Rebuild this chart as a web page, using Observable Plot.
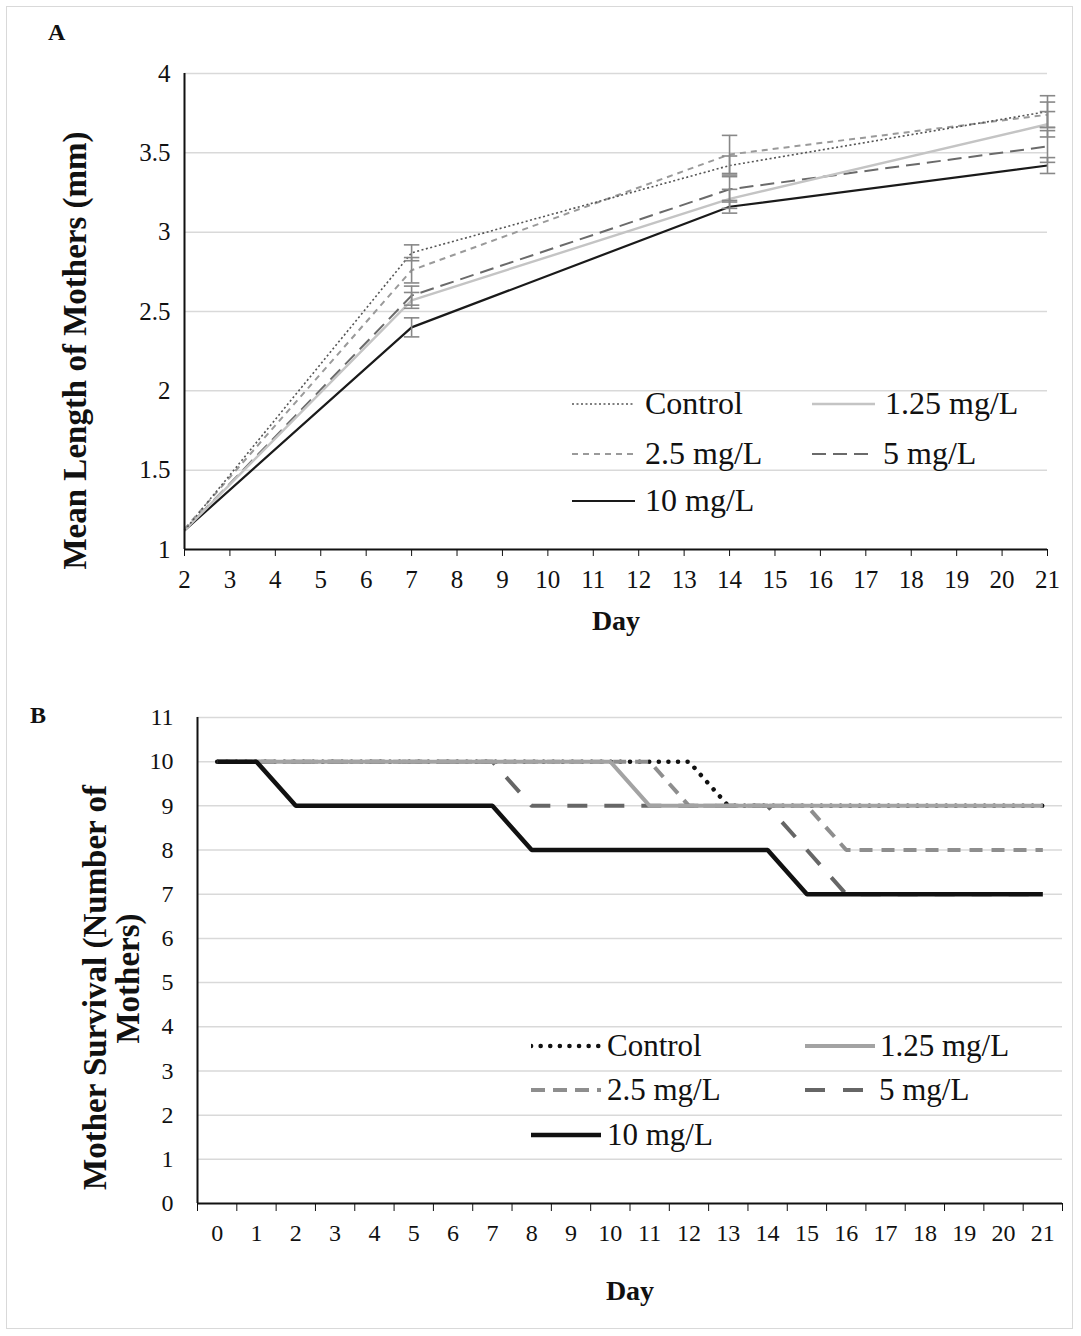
<!DOCTYPE html>
<html>
<head>
<meta charset="utf-8">
<script src="https://cdn.jsdelivr.net/npm/d3@7"></script>
<script src="https://cdn.jsdelivr.net/npm/@observablehq/plot@0.6"></script>
<style>
  html, body { margin: 0; padding: 0; background: #fff; }
  #fig { position: relative; width: 1081px; height: 1336px; font-family: "Liberation Serif", "Times New Roman", serif; color: #111; overflow: hidden; }
  #frame { position: absolute; left: 6px; top: 6px; width: 1067px; height: 1323px; border: 1.5px solid #d9d9d9; box-sizing: border-box; }
  .panel { position: absolute; left: 0; }
  .tag { position: absolute; font-weight: bold; font-size: 24px; }
  .lrow { position: absolute; display: flex; align-items: center; white-space: nowrap; }
  .lrow svg { display: block; }
</style>
</head>
<body>
<div id="fig">
  <div id="frame"></div>
</div>
<script>
// ---------- Panel A data: mean length of mothers (mm) ----------
const lengthDays = [2, 7, 14, 21];
const seriesNames = ["Control", "1.25 mg/L", "2.5 mg/L", "5 mg/L", "10 mg/L"];
const lenControl = [1.12, 2.87, 3.42, 3.76];
const len125     = [1.12, 2.57, 3.21, 3.68];
const len25      = [1.13, 2.76, 3.49, 3.74];
const len5       = [1.12, 2.60, 3.27, 3.54];
const len10      = [1.12, 2.40, 3.16, 3.42];
const errControl = [0.02, 0.05, 0.06, 0.10];
const err125     = [0.02, 0.05, 0.06, 0.08];
const err25      = [0.02, 0.08, 0.12, 0.08];
const err5       = [0.02, 0.06, 0.08, 0.10];
const err10      = [0.02, 0.06, 0.04, 0.05];
const lengthTicksX = [2,3,4,5,6,7,8,9,10,11,12,13,14,15,16,17,18,19,20,21];
const lengthTicksY = [1, 1.5, 2, 2.5, 3, 3.5, 4];

// ---------- Panel B data: mother survival (number of mothers) ----------
const survDays   = [0,1,2,3,4,5,6,7,8,9,10,11,12,13,14,15,16,17,18,19,20,21];
const survControl= [10,10,10,10,10,10,10,10,10,10,10,10,10,9,9,9,9,9,9,9,9,9];
const surv125    = [10,10,10,10,10,10,10,10,10,10,10,9,9,9,9,9,9,9,9,9,9,9];
const surv25     = [10,10,10,10,10,10,10,10,10,10,10,10,9,9,9,9,8,8,8,8,8,8];
const surv5      = [10,10,10,10,10,10,10,10,9,9,9,9,9,9,9,8,7,7,7,7,7,7];
const surv10     = [10,10,9,9,9,9,9,9,8,8,8,8,8,8,8,7,7,7,7,7,7,7];
const survTicksY = [0,1,2,3,4,5,6,7,8,9,10,11];

const FONT = '"Liberation Serif", "Times New Roman", serif';

// styles per series
const styleA = {
  "Control":   {stroke: "#555", width: 1.6, dash: "2,2.5"},
  "1.25 mg/L": {stroke: "#c4c4c4", width: 2.4, dash: null},
  "2.5 mg/L":  {stroke: "#9a9a9a", width: 2, dash: "6,5"},
  "5 mg/L":    {stroke: "#6a6a6a", width: 2, dash: "14,7"},
  "10 mg/L":   {stroke: "#1a1a1a", width: 2.2, dash: null}
};
const styleB = {
  "Control":   {stroke: "#111", width: 4.5, dash: "0.1,9.5", cap: "round"},
  "1.25 mg/L": {stroke: "#a3a3a3", width: 4, dash: null},
  "2.5 mg/L":  {stroke: "#8e8e8e", width: 4, dash: "13,9"},
  "5 mg/L":    {stroke: "#666", width: 4, dash: "20,17"},
  "10 mg/L":   {stroke: "#111", width: 4.5, dash: null}
};

const lenSeries = [lenControl, len125, len25, len5, len10];
const errSeries = [errControl, err125, err25, err5, err10];
const survSeries = [survControl, surv125, surv25, surv5, surv10];

const lengthRows = [];
seriesNames.forEach((name, i) => {
  lengthDays.forEach((d, j) => {
    lengthRows.push({series: name, day: d, len: lenSeries[i][j], err: errSeries[i][j]});
  });
});
const survRows = [];
seriesNames.forEach((name, i) => {
  survDays.forEach((d, j) => survRows.push({series: name, day: d, n: survSeries[i][j]}));
});

function lineMarks(rows, x, y, styles, order) {
  return order.map(name => {
    const s = styles[name];
    return Plot.line(rows.filter(r => r.series === name), {
      x, y, stroke: s.stroke, strokeWidth: s.width,
      strokeDasharray: s.dash || undefined,
      strokeLinecap: s.cap || "butt", strokeLinejoin: "miter"
    });
  });
}

const fig = document.getElementById("fig");

// ---------------- Panel A ----------------
const errRows = lengthRows.filter(r => r.day !== 2);
const chartA = Plot.plot({
  width: 1081, height: 660,
  marginLeft: 184, marginRight: 34, marginTop: 73, marginBottom: 111,
  style: {fontFamily: FONT, fontSize: "24px", color: "#111", background: "transparent", overflow: "visible"},
  x: {domain: [2, 21]},
  y: {domain: [1, 4]},
  marks: [
    Plot.gridY(lengthTicksY.filter(t => t > 1), {stroke: "#d9d9d9", strokeOpacity: 1, strokeWidth: 1.5}),
    ...lineMarks(lengthRows, "day", "len", styleA, ["10 mg/L", "5 mg/L", "1.25 mg/L", "2.5 mg/L", "Control"]),
    Plot.ruleX(errRows, {x: "day", y1: d => d.len - d.err, y2: d => d.len + d.err, stroke: "#888", strokeWidth: 1.6}),
    Plot.link(errRows, {x1: d => d.day - 0.17, x2: d => d.day + 0.17, y1: d => d.len + d.err, y2: d => d.len + d.err, stroke: "#888", strokeWidth: 1.6}),
    Plot.link(errRows, {x1: d => d.day - 0.17, x2: d => d.day + 0.17, y1: d => d.len - d.err, y2: d => d.len - d.err, stroke: "#888", strokeWidth: 1.6}),
    Plot.ruleX([2], {stroke: "#111", strokeWidth: 2}),
    Plot.ruleY([1], {stroke: "#111", strokeWidth: 2}),
    Plot.axisX(lengthTicksX, {tickSize: 7, tickPadding: 14, fontSize: 25, label: null, stroke: "#111"}),
    Plot.axisY(lengthTicksY, {tickSize: 0, tickPadding: 14, fontSize: 25, label: null, tickFormat: d => String(d)}),
    Plot.text(["Day"], {frameAnchor: "bottom", dy: 80, fontSize: 28, fontWeight: "bold"}),
    Plot.text(["Mean Length of Mothers (mm)"], {frameAnchor: "left", textAnchor: "middle", rotate: -90, dx: -109, dy: 39, fontSize: 33, fontWeight: "bold"})
  ]
});
chartA.classList.add("panel");
chartA.style.top = "0px";
fig.appendChild(chartA);

// ---------------- Panel B ----------------
const chartB = Plot.plot({
  width: 1081, height: 676,
  marginLeft: 197, marginRight: 19, marginTop: 57, marginBottom: 133,
  style: {fontFamily: FONT, fontSize: "24px", color: "#111", background: "transparent", overflow: "visible"},
  x: {domain: [-0.5, 21.5]},
  y: {domain: [0, 11]},
  marks: [
    Plot.gridY(survTicksY.filter(t => t > 0), {stroke: "#d9d9d9", strokeOpacity: 1, strokeWidth: 1.5}),
    ...lineMarks(survRows, "day", "n", styleB, ["Control", "2.5 mg/L", "5 mg/L", "1.25 mg/L", "10 mg/L"]),
    Plot.ruleX([-0.5], {stroke: "#111", strokeWidth: 2}),
    Plot.ruleY([0], {stroke: "#111", strokeWidth: 2}),
    Plot.axisX(survDays.map(d => d - 0.5).concat([21.5]), {tickSize: 8, tickFormat: () => "", label: null, stroke: "#111"}),
    Plot.axisX(survDays, {tickSize: 0, tickPadding: 20, fontSize: 24, label: null}),
    Plot.axisY(survTicksY, {tickSize: 0, tickPadding: 24, fontSize: 24, label: null}),
    Plot.text(["Day"], {frameAnchor: "bottom", dy: 96, fontSize: 28, fontWeight: "bold"}),
    Plot.text(["Mother Survival (Number of"], {frameAnchor: "left", textAnchor: "middle", rotate: -90, dx: -102, dy: 27, fontSize: 33, fontWeight: "bold"}),
    Plot.text(["Mothers)"], {frameAnchor: "left", textAnchor: "middle", rotate: -90, dx: -69, dy: 18, fontSize: 33, fontWeight: "bold"})
  ]
});
chartB.classList.add("panel");
chartB.style.top = "660px";
fig.appendChild(chartB);

// ---------------- Panel tags ----------------
function tag(t, left, top) {
  const d = document.createElement("div");
  d.className = "tag"; d.textContent = t;
  d.style.left = left + "px"; d.style.top = top + "px";
  fig.appendChild(d);
}
tag("A", 48, 19);
tag("B", 30, 702);

// ---------------- Legends ----------------
function legendItem(name, styles, left, centerY, swW, gap, fontSize, dashOverride) {
  const s = styles[name];
  const row = document.createElement("div");
  row.className = "lrow";
  row.style.left = left + "px";
  row.style.top = (centerY - fontSize * 0.62) + "px";
  row.style.fontSize = fontSize + "px";
  const ns = "http://www.w3.org/2000/svg";
  const svg = document.createElementNS(ns, "svg");
  svg.setAttribute("width", swW); svg.setAttribute("height", 12);
  const ln = document.createElementNS(ns, "line");
  ln.setAttribute("x1", 0); ln.setAttribute("x2", swW);
  ln.setAttribute("y1", 6); ln.setAttribute("y2", 6);
  ln.setAttribute("stroke", s.stroke);
  ln.setAttribute("stroke-width", s.width);
  const dash = dashOverride || s.dash;
  if (dash) ln.setAttribute("stroke-dasharray", dash);
  if (s.cap) ln.setAttribute("stroke-linecap", s.cap);
  svg.appendChild(ln);
  svg.style.marginRight = gap + "px";
  row.appendChild(svg);
  const sp = document.createElement("span");
  sp.textContent = name;
  row.appendChild(sp);
  fig.appendChild(row);
}
// Panel A legend
legendItem("Control",   styleA, 572, 405, 63, 10, 32);
legendItem("1.25 mg/L", styleA, 812, 405, 63, 10, 32);
legendItem("2.5 mg/L",  styleA, 572, 455, 63, 10, 32);
legendItem("5 mg/L",    styleA, 812, 455, 63, 8, 32);
legendItem("10 mg/L",   styleA, 572, 502, 63, 10, 32);
// Panel B legend
legendItem("Control",   styleB, 531, 1047, 70, 6, 31);
legendItem("1.25 mg/L", styleB, 805, 1047, 70, 5, 31);
legendItem("2.5 mg/L",  styleB, 531, 1091, 70, 6, 31, "14,8");
legendItem("5 mg/L",    styleB, 805, 1091, 60, 14, 31, "20,18");
legendItem("10 mg/L",   styleB, 531, 1136, 70, 6, 31);
</script>
</body>
</html>
